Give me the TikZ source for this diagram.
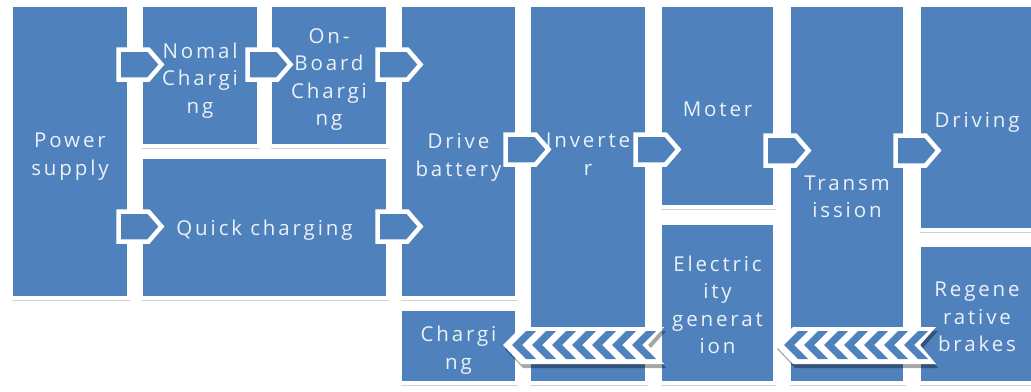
\documentclass[tikz,border=0pt]{standalone}
\usepackage{fontspec}
\setmainfont{Open Sans}[LetterSpace=14]
\usetikzlibrary{shadows}
\definecolor{boxblue}{RGB}{79,129,189}
\definecolor{txtcol}{RGB}{236,241,248}
\tikzset{
  box/.style={draw=white, line width=4pt, fill=boxblue, inner sep=0pt,
    drop shadow={shadow xshift=1pt, shadow yshift=-2.5pt, fill=black, opacity=0.18}},
  boxtext/.style={inner sep=0pt, text=txtcol, align=center, font=\fontsize{20.5}{27.5}\selectfont},
  homearrow/.pic={
    \path[draw=white, line width=4.5pt, fill=boxblue, line join=miter]
      (0,-15) -- (30,-15) -- (43,0) -- (30,15) -- (0,15) -- cycle;},
  chevarrow/.pic={
    \fill[black, opacity=0.35] (2,4) -- (20,-14) -- (163,-14) -- (147,4) -- (163,23) -- (20,23) -- cycle;
    \fill[white] (0,0) -- (18,-18) -- (161,-18) -- (145,0) -- (161,19) -- (18,19) -- cycle;
    \foreach \i in {0,...,6}{
      \fill[boxblue] ({9+20*\i},0) -- ({23+20*\i},-14) -- ({33+20*\i},-14) -- ({19+20*\i},0)
        -- ({33+20*\i},14) -- ({23+20*\i},14) -- cycle;}
  },
}
% \bx{name}{x1}{y1}{x2}{y2}{y offset of text}{text}
\newcommand\bx[7]{%
  \node[box, minimum width={(#4-#2+4)*1pt}, minimum height={(#5-#3+4)*1pt}] (#1) at ({(#2+#4)/2},{(#3+#5)/2}) {};
  \node[boxtext] (#1-t) at ([yshift={-(#6)*1pt}]#1.center) {#7};}
\begin{document}
\begin{tikzpicture}[x=1pt,y=-1pt]
\useasboundingbox (0,0) rectangle (1031,391);
\clip (0,0) rectangle (1031,391);
\fill[white] (0,0) rectangle (1031,391);
\bx{ps}{13}{7}{127}{296}{5}{Power\\supply}
\bx{nc}{143}{7}{257}{144}{5}{Nomal\\Chargi\\ng}
\bx{ob}{272}{7}{386}{144}{4}{On-\\Board\\Chargi\\ng}
\bx{qc}{143}{159}{386}{296}{3}{Quick charging}
\bx{db}{402}{7}{515}{296}{6}{Drive\\battery}
\bx{ch}{402}{311}{515}{381}{4}{Chargi\\ng}
\bx{iv}{531}{7}{645}{381}{-40}{Inverte\\r}
\bx{mo}{662}{7}{773}{205}{3}{Moter}
\bx{eg}{662}{225}{773}{381}{2}{Electric\\ity\\generat\\ion}
\bx{tr}{791}{7}{903}{381}{3}{Transm\\ission}
\bx{dr}{921}{7}{1033}{228}{5}{Driving}
\bx{rb}{921}{247}{1033}{381}{3}{Regene\\rative\\brakes}
% arrows
\pic at (118.5,64.5) {homearrow};
\pic at (247.5,64.5) {homearrow};
\pic at (377.5,64.5) {homearrow};
\pic at (118.5,226.5) {homearrow};
\pic at (377.5,226.5) {homearrow};
\pic at (505.5,149.5) {homearrow};
\pic at (635.5,149.5) {homearrow};
\pic at (765.5,150.5) {homearrow};
\pic at (895.5,150.5) {homearrow};
% chevron arrows
\pic at (503,345) {chevarrow};
\pic at (775,345) {chevarrow};
\end{tikzpicture}
\end{document}
